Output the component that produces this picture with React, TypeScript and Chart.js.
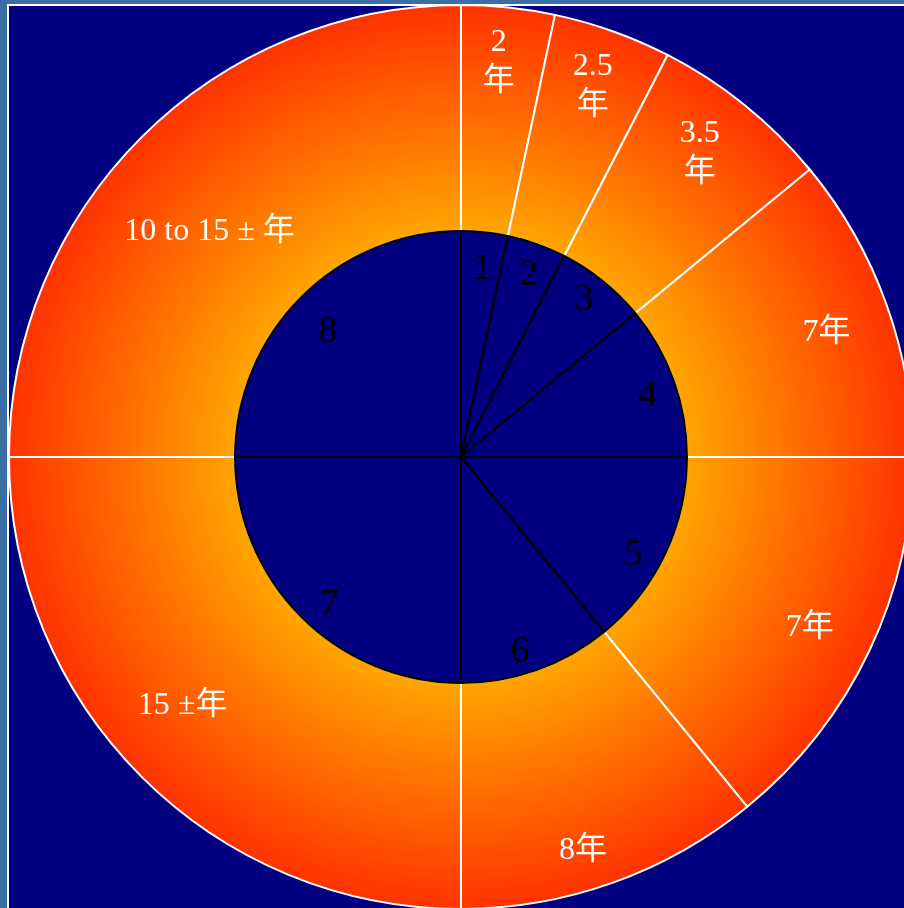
import React, { useEffect, useRef } from "react";
import { Chart, registerables } from "chart.js";

Chart.register(...registerables);

// Slice sizes (degrees of the circle) shared by the outer ring and the inner pie
const sliceValues = [12, 15.2, 23.3, 39.5, 50.7, 39.3, 90, 90];
// Outer ring texts
const ringLabels = ["2\n年", "2.5\n年", "3.5\n年", "7年", "7年", "8年", "15 ±年", "10 to 15 ± 年"];
// Inner pie texts
const pieLabels = ["1", "2", "3", "4", "5", "6", "7", "8"];

// Label placement (fraction of arc outer radius, angular shift in degrees)
const ringLabelRadius = [0.885, 0.878, 0.861, 0.856, 0.856, 0.905, 0.821, 0.751];
const ringLabelShift = [-0.6, -0.2, -1, 0.6, 0.35, 2.3, 3.6, -2.8];
const pieLabelRadius = [0.845, 0.867, 0.889, 0.872, 0.872, 0.894, 0.872, 0.814];
const pieLabelShift = [0.3, 0.7, -1.1, 1.15, 3.85, 2.65, -3, -1.3];

const labelPlugin = {
  id: "sliceLabels",
  afterDatasetsDraw(chart: any) {
    const ctx = chart.ctx;
    const specs = [
      { d: 0, texts: ringLabels, rad: ringLabelRadius, shift: ringLabelShift, font: "32px 'Liberation Serif', 'Noto Sans CJK SC', serif", color: "#ffffff", lh: 39, dy: 3 },
      { d: 1, texts: pieLabels, rad: pieLabelRadius, shift: pieLabelShift, font: "38px 'Liberation Serif', serif", color: "#000000", lh: 40, dy: 2 },
    ];
    ctx.save();
    ctx.textAlign = "center";
    ctx.textBaseline = "middle";
    for (const s of specs) {
      const meta = chart.getDatasetMeta(s.d);
      ctx.font = s.font;
      ctx.fillStyle = s.color;
      meta.data.forEach((arc: any, i: number) => {
        const p = arc.getProps(["x", "y", "startAngle", "endAngle", "outerRadius"], true);
        const mid = (p.startAngle + p.endAngle) / 2 + (s.shift[i] * Math.PI) / 180;
        const r = p.outerRadius * s.rad[i];
        const cx = p.x + Math.cos(mid) * r;
        const cy = p.y + Math.sin(mid) * r + s.dy;
        const lines = String(s.texts[i]).split("\n");
        const y0 = cy - ((lines.length - 1) * s.lh) / 2;
        lines.forEach((ln, k) => ctx.fillText(ln, cx, y0 + k * s.lh));
      });
    }
    ctx.restore();
  },
};

export default function App() {
  const ref = useRef<HTMLCanvasElement | null>(null);

  useEffect(() => {
    if (!ref.current) return;
    const ringFill = (c: any) => {
      const chart = c.chart;
      const a = chart.chartArea;
      if (!a) return "#FF7000";
      const cx = (a.left + a.right) / 2;
      const cy = (a.top + a.bottom) / 2;
      const R = (Math.min(a.width, a.height) - 2) / 2;
      const g = chart.ctx.createRadialGradient(cx, cy, R / 2, cx, cy, R);
      g.addColorStop(0, "#FFA500");
      g.addColorStop(1, "#FF3300");
      return g;
    };
    const chart = new Chart(ref.current, {
      type: "doughnut",
      data: {
        labels: pieLabels,
        datasets: [
          {
            data: sliceValues,
            backgroundColor: ringFill as any,
            borderColor: "#ffffff",
            borderWidth: 2,
            order: 1,
          },
          {
            data: sliceValues,
            backgroundColor: "#000080",
            borderColor: "#000000",
            borderWidth: 2,
            order: 0,
          },
        ],
      },
      options: {
        responsive: false,
        animation: false,
        cutout: 0,
        events: [],
        layout: { padding: 0 },
        plugins: { legend: { display: false }, tooltip: { enabled: false } },
      } as any,
      plugins: [labelPlugin],
    });
    return () => chart.destroy();
  }, []);

  return (
    <div style={{ position: "fixed", left: 0, top: 0, right: 0, bottom: 0, background: "#3A6EA5", overflow: "hidden" }}>
      <div
        style={{
          position: "absolute",
          left: 7,
          top: 4,
          width: 1000,
          height: 1000,
          background: "#000080",
          borderLeft: "2px solid #ffffff",
          borderTop: "2px solid #ffffff",
        }}
      />
      <canvas
        ref={ref}
        width={906}
        height={906}
        style={{ position: "absolute", left: 8, top: 4, width: 906, height: 906 }}
      />
    </div>
  );
}
